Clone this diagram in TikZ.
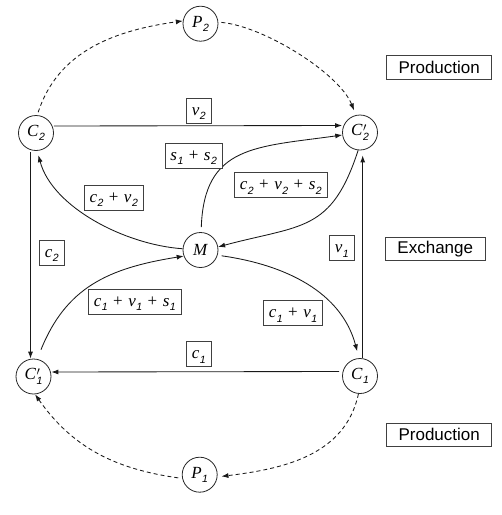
\documentclass[tikz,border=0pt]{standalone}
\usepackage{fontspec}
\setmainfont{Liberation Serif}
\setsansfont{Liberation Sans}
\usetikzlibrary{arrows.meta}

\newcommand\sbs[1]{\kern0.5pt\raisebox{-4.5pt}{\fontsize{10.5}{10.5}\selectfont\sffamily\itshape #1}}
\newcommand\pls{\hspace{5.5pt}+\hspace{5.5pt}}
\newcommand\var[2]{\textit{#1}\sbs{#2}}
\newcommand\varp[2]{\textit{#1}\rlap{\kern0.5pt\raisebox{4.5pt}{\fontsize{12}{12}\selectfont$\prime$}}\sbs{#2}}

\begin{document}
\begin{tikzpicture}[x=1pt,y=-1pt,
  every node/.style={font=\fontsize{17}{20}\selectfont},
  cnode/.style={circle,draw=black!85,line width=0.8pt,minimum size=35pt,inner sep=0pt},
  lbl/.style={draw=black!75,line width=0.8pt,fill=white,inner xsep=5.5pt,inner ysep=0pt,
    text height=11pt,text depth=2pt,minimum height=25pt,minimum width=25pt},
  tbox/.style={draw=black!75,line width=0.8pt,font=\fontsize{17}{20}\selectfont\sffamily,
    inner xsep=12pt,inner ysep=0pt,minimum height=23.5pt},
  arr/.style={draw=black!90,line width=0.85pt,-{Latex[length=7pt,width=5pt]}},
  darr/.style={arr,dash pattern=on 4pt off 3pt}
]
\useasboundingbox (0,0) rectangle (502,515);

% circles
\node[cnode] (P2)  at (200.5,23.7)  {\var{P}{2}};
\node[cnode] (C2)  at (36,133)      {\var{C}{2}};
\node[cnode] (C2p) at (360,132.5)   {\varp{C}{2}};
\node[cnode] (M)   at (200.5,250)   {\textit{M}};
\node[cnode] (C1p) at (33.5,376.5)  {\varp{C}{1}};
\node[cnode] (C1)  at (360,376)     {\var{C}{1}};
\node[cnode] (P1)  at (199.7,474.7) {\var{P}{1}};

% straight connectors
\draw[arr] ([yshift=7pt]C2.east) -- ([yshift=7pt]C2p.west);
\draw[arr,shorten <=1pt] ([xshift=-5.5pt]C2.south) -- ([xshift=-3pt]C1p.north);
\draw[arr,shorten >=5pt] ([xshift=2.7pt]C1.north) -- ([xshift=2.7pt]C2p.south);
\draw[arr,shorten <=3pt] ([yshift=4.5pt]C1.west) -- ([yshift=4.5pt]C1p.east);

% exchange curves
\draw[arr,shorten >=4.5pt] (M.176) to[out=176,in=-75,looseness=0.85] (C2.-86);
\draw[arr,shorten <=5pt] (M.88) to[out=88,in=188,looseness=1.3] (C2p.188);
\draw[arr] (C2p.-96) to[out=-108,in=15,looseness=1.3] (M.10);
\draw[arr,shorten <=10pt] (C1p.78) to[out=68,in=189,looseness=1.1] (M.200);
\draw[arr,shorten <=4pt,shorten >=7pt] (M.-17) to[out=-8,in=105] (C1.93);

% production curves
\draw[darr,shorten <=3pt] (C2.86) to[out=72,in=188] (P2.171);
\draw[darr,shorten <=3pt,shorten >=5pt] (P2.5) to[out=-5,in=112,looseness=0.7] (C2p.103);
\draw[darr,shorten >=4pt] (C1.-95) to[out=-102,in=7] (P1.-7);
\draw[darr,shorten <=4pt] (P1.192) to[out=172,in=-55] (C1p.-85);

% labels
\node[lbl] (lv2)   at (198.7,110.8) {\var{v}{2}};
\node[lbl] (ls12)  at (193.7,155.8) {\var{s}{1}\pls\var{s}{2}};
\node[lbl] (lcvs2) at (280.8,185.2) {\var{c}{2}\pls\var{v}{2}\pls\var{s}{2}};
\node[lbl] (lcv2)  at (113.7,197.5) {\var{c}{2}\pls\var{v}{2}};
\node[lbl] (lc2)   at (51.7,252.8)  {\var{c}{2}};
\node[lbl] (lv1)   at (341.7,248.2) {\var{v}{1}};
\node[lbl] (lcvs1) at (134.8,301.5) {\var{c}{1}\pls\var{v}{1}\pls\var{s}{1}};
\node[lbl] (lcv1)  at (293,313.2)   {\var{c}{1}\pls\var{v}{1}};
\node[lbl] (lc1)   at (198.7,354.2) {\var{c}{1}};

\node[tbox] (prod2) at (439.2,67.5)  {Production};
\node[tbox] (exch)  at (435.3,249)   {Exchange};
\node[tbox] (prod1) at (439.2,434.7) {Production};
\end{tikzpicture}
\end{document}
